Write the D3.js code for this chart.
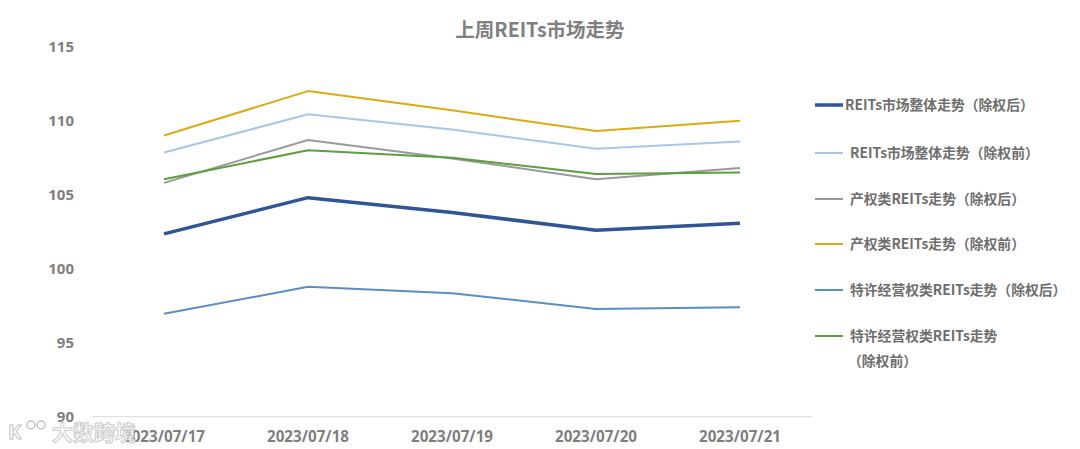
<!DOCTYPE html>
<html><head><meta charset="utf-8">
<script src="https://cdn.jsdelivr.net/npm/d3@7"></script>
<style>body{margin:0;background:#fff;}svg{display:block;font-family:"Noto Sans CJK SC","Open Sans",sans-serif;}</style>
</head><body><svg id="c" width="1080" height="449"></svg>
<script>
const categories = ["2023/07/17","2023/07/18","2023/07/19","2023/07/20","2023/07/21"];
const yTicks = [90,95,100,105,110,115];
const seriesNames = ["REITs市场整体走势（除权后）","REITs市场整体走势（除权前）","产权类REITs走势（除权后）","产权类REITs走势（除权前）","特许经营权类REITs走势（除权后）","特许经营权类REITs走势（除权前）"];
const marketAfter   = [102.35,104.8,103.8,102.6,103.07];
const marketBefore  = [107.85,110.43,109.4,108.1,108.6];
const propAfter     = [105.8,108.7,107.45,106.05,106.8];
const propBefore    = [109.0,112.0,110.7,109.3,110.0];
const franAfter     = [96.95,98.78,98.34,97.28,97.39];
const franBefore    = [106.05,108.0,107.5,106.4,106.5];
const seriesValues = [marketAfter,marketBefore,propAfter,propBefore,franAfter,franBefore];
const colors = ["#2F5597","#A8C6E6","#9A9A9A","#DDAA11","#5B8EC4","#5E9E3E"];
const widths = [3.5,2,2,2,2,2];

const svg = d3.select("#c");
const x = d3.scaleBand().domain(categories).range([92,812]);
const y = d3.scaleLinear().domain([90,115]).range([416.7,46.7]);

svg.append("text").attr("x",540).attr("y",37).attr("text-anchor","middle")
  .attr("font-size",19.5).attr("font-weight","bold").attr("fill","#7F7F7F").text("上周REITs市场走势");

// baseline
svg.append("line").attr("x1",92).attr("x2",812).attr("y1",y(90)).attr("y2",y(90))
  .attr("stroke","#D9D9D9").attr("stroke-width",1);

// y axis labels
const yAxis = d3.axisLeft(y).tickValues(yTicks).tickSize(0).tickPadding(0);
const ya = svg.append("g").attr("transform","translate(74,0)").call(yAxis);
ya.select(".domain").remove();
ya.selectAll("text").attr("font-size",15).attr("font-weight","bold").attr("fill","#7F7F7F")
  .attr("font-family","'Open Sans',sans-serif");

// x axis labels
const xAxis = d3.axisBottom(x).tickSize(0).tickPadding(0);
const xa = svg.append("g").attr("transform","translate(0,431)").call(xAxis);
xa.select(".domain").remove();
xa.selectAll("text").attr("font-size",15.2).attr("font-weight","bold").attr("fill","#7F7F7F")
  .attr("font-family","'Open Sans',sans-serif");

const line = d3.line().x((d,i)=>x(categories[i])+x.bandwidth()/2).y(d=>y(d));
const order = [1,3,2,5,4,0];
order.forEach(k=>{
  svg.append("path").datum(seriesValues[k]).attr("d",line).attr("fill","none")
    .attr("stroke",colors[k]).attr("stroke-width",widths[k]).attr("stroke-linejoin","round");
});

// legend
const legY = [105,153,199,244,290,336];
const fs = 13.8;
seriesNames.forEach((n,k)=>{
  const g = svg.append("g");
  g.append("line").attr("x1",815).attr("x2",843).attr("y1",legY[k]).attr("y2",legY[k])
    .attr("stroke",colors[k]).attr("stroke-width",widths[k]);
  const tx = k===0?845:850;
  if(k===5){
    g.append("text").attr("x",tx).attr("y",legY[k]+5).attr("font-size",fs).attr("font-weight","bold").attr("fill","#6E6E6E").text("特许经营权类REITs走势");
    g.append("text").attr("x",tx-2).attr("y",legY[k]+30).attr("font-size",fs).attr("font-weight","bold").attr("fill","#6E6E6E").text("（除权前）");
  } else {
    g.append("text").attr("x",tx).attr("y",legY[k]+5).attr("font-size",fs).attr("font-weight","bold").attr("fill","#6E6E6E").text(n);
  }
});

// watermark
const wm = svg.append("g").attr("opacity",0.9);
wm.append("text").attr("x",8).attr("y",439).attr("font-size",20).attr("font-weight","bold")
  .attr("fill","#fff").attr("stroke","#BDBDBD").attr("stroke-width",1).attr("font-family","'Open Sans',sans-serif").text("K");
wm.append("circle").attr("cx",31).attr("cy",425).attr("r",4).attr("fill","none").attr("stroke","#BDBDBD").attr("stroke-width",1.5);
wm.append("circle").attr("cx",41).attr("cy",425).attr("r",4).attr("fill","none").attr("stroke","#BDBDBD").attr("stroke-width",1.5);
wm.append("text").attr("x",52).attr("y",440).attr("font-size",21).attr("font-weight","bold")
  .attr("fill","#fff").attr("stroke","#C8C8C8").attr("stroke-width",1).text("大数跨境");
</script></body></html>
